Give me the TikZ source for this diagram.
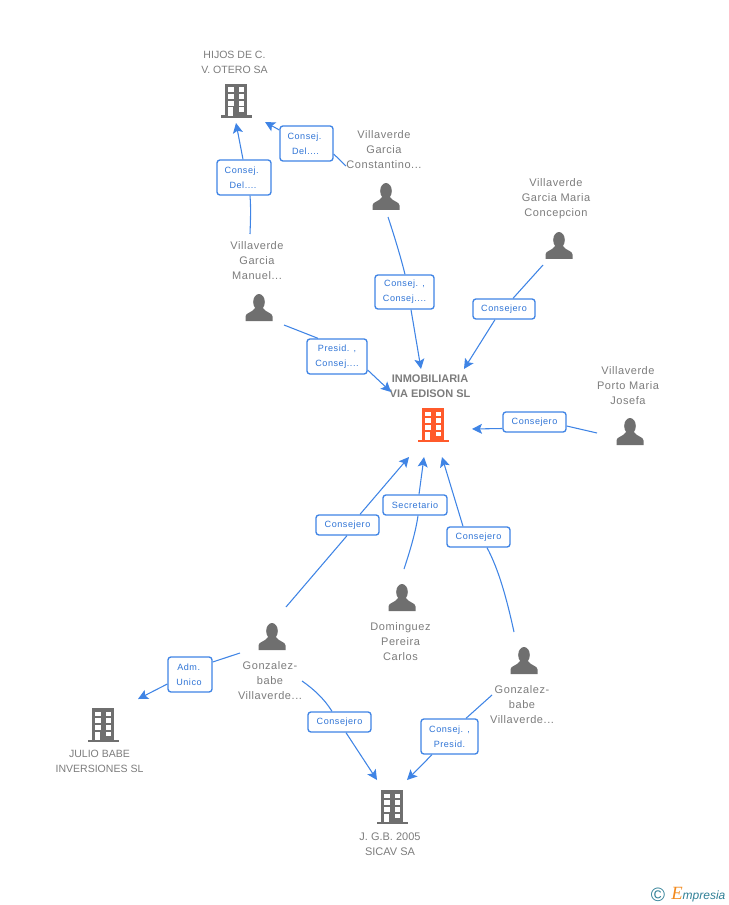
\documentclass[tikz,border=0pt]{standalone}
\usepackage{fontspec}
\setmainfont{Liberation Sans}
\newfontfamily\lblfont[LetterSpace=6]{Liberation Sans}
\newfontfamily\prsfont[LetterSpace=5]{Liberation Sans}
\newfontfamily\logofont{Liberation Serif}
\usetikzlibrary{arrows.meta}
\definecolor{ico}{HTML}{6F6F6F}
\definecolor{txt}{HTML}{7C7C7C}
\definecolor{lnk}{HTML}{3F84E5}
\definecolor{lbltxt}{HTML}{2F74D6}
\definecolor{hot}{HTML}{FF5A2B}
\definecolor{teal}{HTML}{2F7F96}
\definecolor{orng}{HTML}{F28A1E}
\tikzset{
  x=0.75pt,y=-0.75pt,
  nametxt/.style={text=txt,font=\fontsize{7.9pt}{11.25pt}\selectfont,align=center,inner sep=0pt},
  prstxt/.style={text=txt,font=\prsfont\fontsize{8.25pt}{11.25pt}\selectfont,align=center,inner sep=0pt,yshift=-0.8pt},
  lbl/.style={draw=lnk,line width=1pt,rounded corners=2.2pt,fill=white,text=lbltxt,
     font=\lblfont\fontsize{6.8pt}{11.25pt}\selectfont,align=center,inner sep=0pt},
  lblbox/.style 2 args={lbl,minimum width=#1*0.75pt,minimum height=#2*0.75pt},
  link/.style={draw=lnk,line width=0.8pt},
  arr/.style={link,-{Stealth[length=7.5pt,width=7.5pt,inset=1.6pt]}},
  pics/building/.style={code={
    \fill[#1] (-11,0) rectangle (11,32);
    \fill[#1] (-15.5,31.5) rectangle (15.5,34);
    \foreach \ya/\yb in {3.5/8,10/15,17/22}{
      \fill[white] (-8,\ya) rectangle (-2.5,\yb);
      \fill[white] (2.5,\ya) rectangle (8,\yb);}
    \fill[white] (-8,23.5) rectangle (-3,32);
    \fill[white] (2.5,23.5) rectangle (8,28);
  }},
  pics/person/.style={code={
    \fill[ico] (0,8) ellipse [x radius=5.8,y radius=8];
    \fill[ico] (-13.5,27) -- (-13.5,22.5) .. controls (-13.5,18.5) and (-7,19) .. (-4,14)
      -- (4,14) .. controls (7,19) and (13.5,18.5) .. (13.5,22.5) -- (13.5,27) -- cycle;
  }},
}
\begin{document}
\begin{tikzpicture}
\useasboundingbox (0,0) rectangle (728,905);
% icons
\pic at (236,84) {building=ico};
\pic at (433,408) {building=hot};
\pic at (103,708) {building=ico};
\pic at (392,790) {building=ico};
\pic at (386,183) {person};
\pic at (559,232) {person};
\pic at (259,294) {person};
\pic at (630,418) {person};
\pic at (402,584) {person};
\pic at (272,623) {person};
\pic at (524,647) {person};
% names
\node[nametxt] (hijos) at (234.5,62.5) {HIJOS DE C.\\V. OTERO SA};
\node[nametxt,font=\bfseries\fontsize{8.25pt}{11.25pt}\selectfont] (inmo) at (430,386) {INMOBILIARIA\\VIA EDISON SL};
\node[nametxt] (julio) at (99.5,761) {JULIO BABE\\INVERSIONES SL};
\node[nametxt,font=\fontsize{8.25pt}{11.25pt}\selectfont] (jgb) at (390,844) {J. G.B. 2005\\SICAV SA};
\node[prstxt] (constantino) at (384,149) {Villaverde\\Garcia\\Constantino...};
\node[prstxt] (concepcion) at (556,198) {Villaverde\\Garcia Maria\\Concepcion};
\node[prstxt] (manuel) at (257,259.5) {Villaverde\\Garcia\\Manuel...};
\node[prstxt] (porto) at (628,384) {Villaverde\\Porto Maria\\Josefa};
\node[prstxt] (dominguez) at (400.5,640) {Dominguez\\Pereira\\Carlos};
\node[prstxt] (gonzaA) at (270,679) {Gonzalez-\\babe\\Villaverde...};
\node[prstxt] (gonzaB) at (522,703) {Gonzalez-\\babe\\Villaverde...};
% labels
\node[lblbox={54}{35}] (l1) at (244,177.5) {Consej.\hspace*{3.5pt}\\Del....\hspace*{1.5pt}};
\node[lblbox={53}{35}] (l2) at (306.5,143.5) {Consej.\hspace*{3pt}\\Del....\hspace*{1.5pt}};
\node[lblbox={59}{34}] (l3) at (404.5,292) {Consej. ,\\Consej....};
\node[lblbox={62}{20}] (l4) at (504,309) {Consejero};
\node[lblbox={60}{35}] (l5) at (337,356.5) {Presid. ,\\Consej....};
\node[lblbox={63}{20}] (l6) at (534.5,422) {Consejero};
\node[lblbox={64}{20}] (l7) at (415,505) {Secretario};
\node[lblbox={63}{20}] (l8) at (347.5,525) {Consejero};
\node[lblbox={63}{20}] (l9) at (478.5,537) {Consejero};
\node[lblbox={44}{35}] (l10) at (190,674.5) {Adm.\hspace*{2pt}\\Unico\hspace*{1.5pt}};
\node[lblbox={63}{20}] (l11) at (339.5,722) {Consejero};
\node[lblbox={57}{35}] (l12) at (449.5,736.5) {Consej. ,\\Presid.};
% free ends
\coordinate (t1) at (236,123);
\coordinate (t2) at (265,122);
\coordinate (t3) at (421,369);
\coordinate (t4) at (464,369);
\coordinate (t5) at (391,392);
\coordinate (t6) at (472,429);
\coordinate (t7) at (424,457);
\coordinate (t8) at (409,457);
\coordinate (t9) at (442,457);
\coordinate (t10) at (138,699);
\coordinate (t11) at (377,780);
\coordinate (t12) at (407,780);
\coordinate (s1) at (250,234);
\coordinate (s2) at (346,166);
\coordinate (s3) at (388,217);
\coordinate (s4) at (543,265);
\coordinate (s5) at (284,325);
\coordinate (s6) at (597,433);
\coordinate (s7) at (404,569);
\coordinate (s8) at (286,607);
\coordinate (s9) at (514,632);
\coordinate (s10) at (240,653);
\coordinate (s11) at (302,681);
\coordinate (s12) at (492,695);
% connectors
\draw[link] (s1) .. controls (250.5,220) and (251,208) .. (l1.south -| 250,0);
\draw[arr] (l1.north -| 243,0) -- (t1);
\draw[link] (s2) -- (l2.east |- 0,154);
\draw[arr] (l2.west |- 0,130) -- (t2);
\draw[link] (s3) .. controls (394,235) and (401,258) .. (l3.north -| 405,0);
\draw[arr] (l3.south -| 411,0) -- (t3);
\draw[link] (s4) -- (l4.north -| 513,0);
\draw[arr] (l4.south -| 495,0) -- (t4);
\draw[link] (s5) -- (l5.north -| 318,0);
\draw[arr] (l5.east |- 0,370) -- (t5);
\draw[link] (s6) -- (l6.east |- 0,426);
\draw[arr] (l6.west |- 0,428.5) -- (t6);
\draw[link] (s7) .. controls (411,548) and (416,530) .. (l7.south -| 418,0);
\draw[arr] (l7.north -| 419,0) -- (t7);
\draw[link] (s8) -- (l8.south -| 347,0);
\draw[arr] (l8.north -| 360,0) -- (t8);
\draw[link] (s9) .. controls (507,600) and (499,570) .. (l9.south -| 487,0);
\draw[arr] (l9.north -| 463,0) -- (t9);
\draw[link] (s10) -- (l10.east |- 0,662);
\draw[arr] (l10.west |- 0,684) -- (t10);
\draw[link] (s11) .. controls (315,690) and (325,700) .. (l11.north -| 332,0);
\draw[arr] (l11.south -| 346,0) -- (t11);
\draw[link] (s12) -- (l12.north -| 466,0);
\draw[arr] (l12.south -| 432,0) -- (t12);
% logo
\node[inner sep=0pt,text=teal,font=\fontsize{14.5pt}{15pt}\selectfont] (copy) at (658,894.5) {©};
\node[inner sep=0pt,anchor=base west,font=\fontsize{9pt}{12pt}\selectfont] (logot) at (671,899)
  {{\logofont\itshape\color{orng}\fontsize{14pt}{14pt}\selectfont E}{\itshape\color{teal}mpresia}};
\end{tikzpicture}
\end{document}
